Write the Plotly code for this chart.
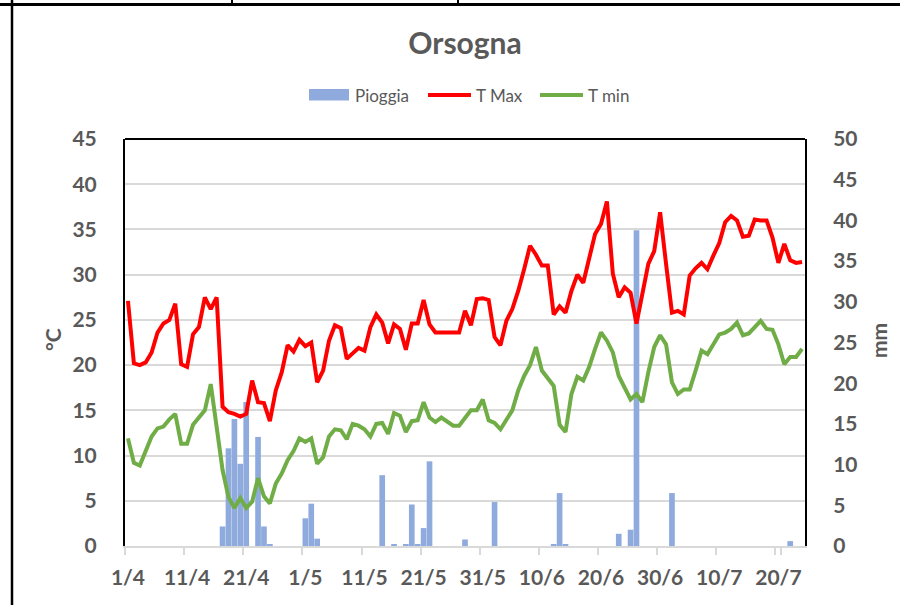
import pandas as pd
import plotly.graph_objects as go

# ---- data ----
dates = pd.date_range("2021-04-01", "2021-07-24", freq="D")
day_labels = [f"{d.day}/{d.month}" for d in dates]
tick_labels = ["1/4", "11/4", "21/4", "1/5", "11/5", "21/5", "31/5",
               "10/6", "20/6", "30/6", "10/7", "20/7"]

t_max = [27.1, 20.2, 20.0, 20.3, 21.4, 23.6, 24.6, 25.0, 26.8, 20.1,
         19.8, 23.4, 24.2, 27.5, 26.2, 27.5, 15.4, 14.8, 14.6, 14.3,
         14.6, 18.3, 15.9, 15.8, 13.8, 17.2, 19.2, 22.2, 21.5, 22.8,
         22.1, 22.5, 18.1, 19.4, 22.7, 24.4, 24.1, 20.7, 21.3, 21.9,
         21.6, 24.2, 25.6, 24.7, 22.4, 24.5, 24.0, 21.7, 24.6, 24.6,
         27.2, 24.5, 23.6, 23.6, 23.6, 23.6, 23.6, 26.0, 24.4, 27.3,
         27.4, 27.2, 23.1, 22.2, 24.9, 26.2, 28.2, 30.6, 33.2, 32.2,
         31.0, 31.0, 25.6, 26.5, 25.8, 28.2, 30.0, 29.1, 31.9, 34.5,
         35.6, 38.1, 30.1, 27.5, 28.6, 28.0, 24.6, 27.9, 31.2, 32.6,
         36.9, 31.2, 25.8, 26.0, 25.6, 29.9, 30.7, 31.3, 30.6, 32.1,
         33.5, 35.8, 36.5, 36.0, 34.2, 34.3, 36.1, 36.0, 36.0, 34.1,
         31.3, 33.4, 31.6, 31.3, 31.4]

t_min = [11.9, 9.2, 8.9, 10.4, 12.1, 13.0, 13.2, 14.0, 14.6, 11.3,
         11.3, 13.4, 14.2, 15.0, 17.9, 13.2, 8.4, 5.4, 4.2, 5.3,
         4.2, 4.9, 7.5, 5.5, 4.7, 6.9, 8.0, 9.5, 10.5, 11.9,
         11.5, 11.9, 9.1, 9.8, 12.1, 12.9, 12.8, 11.8, 13.5, 13.3,
         12.9, 12.1, 13.5, 13.6, 12.4, 14.7, 14.4, 12.6, 13.8, 13.9,
         15.9, 14.2, 13.7, 14.2, 13.8, 13.3, 13.3, 14.2, 15.0, 15.0,
         16.2, 13.9, 13.6, 12.9, 14.0, 15.0, 17.2, 18.8, 20.0, 22.0,
         19.4, 18.6, 17.7, 13.4, 12.6, 16.8, 18.7, 18.3, 19.8, 21.8,
         23.6, 22.7, 21.4, 18.8, 17.6, 16.2, 16.8, 15.9, 19.2, 22.0,
         23.3, 22.3, 18.1, 16.8, 17.3, 17.3, 19.4, 21.6, 21.2, 22.3,
         23.4, 23.6, 24.0, 24.7, 23.3, 23.5, 24.2, 24.9, 24.0, 23.9,
         22.3, 20.1, 20.9, 20.9, 21.8]

pioggia = [0, 0, 0, 0, 0, 0, 0, 0, 0, 0,
           0, 0, 0, 0, 0, 0, 2.4, 12.0, 15.6, 10.1,
           17.7, 0, 13.4, 2.4, 0.2, 0, 0, 0, 0, 0,
           3.4, 5.2, 0.9, 0, 0, 0, 0, 0, 0, 0,
           0, 0, 0, 8.7, 0, 0.2, 0, 0.2, 5.1, 0.2,
           2.2, 10.4, 0, 0, 0, 0, 0, 0.8, 0, 0,
           0, 0, 5.4, 0, 0, 0, 0, 0, 0, 0,
           0, 0, 0.2, 6.5, 0.2, 0, 0, 0, 0, 0,
           0, 0, 0, 1.5, 0, 2.0, 38.8, 0, 0, 0,
           0, 0, 6.5, 0, 0, 0, 0, 0, 0, 0,
           0, 0, 0, 0, 0, 0, 0, 0, 0, 0,
           0, 0, 0.6, 0, 0]

# ---- styling ----
W, H = 900, 605
L, R, T, B = 125, 95, 139, 59
PW, PH = W - L - R, H - T - B
GRAY = "#595959"
FONT = "Lato"


def px(x):
    return (x - L) / PW


def py(y):
    return (H - B - y) / PH


fig = go.Figure()
fig.add_trace(go.Bar(x=day_labels, y=pioggia, name="Pioggia",
                     marker=dict(color="#8FAADC", line=dict(width=0)),
                     yaxis="y"))
fig.add_trace(go.Scatter(x=day_labels, y=t_max, name="T Max", mode="lines",
                         line=dict(color="#FF0000", width=4), yaxis="y2"))
fig.add_trace(go.Scatter(x=day_labels, y=t_min, name="T min", mode="lines",
                         line=dict(color="#70AD47", width=4), yaxis="y2"))

tick_font = dict(family=FONT, size=21, color=GRAY, weight="bold")

shapes = [
    # plot area top border
    dict(type="line", xref="paper", yref="paper", x0=0, x1=1, y0=1, y1=1,
         line=dict(color="black", width=2)),
    # page/table borders
    dict(type="line", xref="paper", yref="paper", x0=px(0), x1=px(900),
         y0=py(4.5), y1=py(4.5), line=dict(color="black", width=3)),
    dict(type="line", xref="paper", yref="paper", x0=px(12), x1=px(12),
         y0=py(0), y1=py(605), line=dict(color="black", width=2.5)),
    dict(type="line", xref="paper", yref="paper", x0=px(232), x1=px(232),
         y0=py(0), y1=py(4.5), line=dict(color="black", width=2)),
    dict(type="line", xref="paper", yref="paper", x0=px(458), x1=px(458),
         y0=py(0), y1=py(4.5), line=dict(color="black", width=2)),
    # legend symbols
    dict(type="rect", xref="paper", yref="paper", x0=px(309), x1=px(349),
         y0=py(100.5), y1=py(89), fillcolor="#8FAADC", line=dict(width=0)),
    dict(type="line", xref="paper", yref="paper", x0=px(428), x1=px(471),
         y0=py(95), y1=py(95), line=dict(color="#FF0000", width=4)),
    dict(type="line", xref="paper", yref="paper", x0=px(540), x1=px(583),
         y0=py(95), y1=py(95), line=dict(color="#70AD47", width=4)),
]

leg_font = dict(family=FONT, size=17, color=GRAY)
annotations = [
    dict(text="Pioggia", x=px(353), y=py(95), xref="paper", yref="paper",
         xanchor="left", yanchor="middle", showarrow=False, font=leg_font),
    dict(text="T Max", x=px(474), y=py(95), xref="paper", yref="paper",
         xanchor="left", yanchor="middle", showarrow=False, font=leg_font),
    dict(text="T min", x=px(586), y=py(95), xref="paper", yref="paper",
         xanchor="left", yanchor="middle", showarrow=False, font=leg_font),
    dict(text="°C", x=px(52), y=py(340), xref="paper", yref="paper",
         xanchor="center", yanchor="middle", showarrow=False, textangle=-90,
         font=dict(family=FONT, size=21, color=GRAY, weight="bold")),
    dict(text="mm", x=px(878), y=py(341), xref="paper", yref="paper",
         xanchor="center", yanchor="middle", showarrow=False, textangle=-90,
         font=dict(family=FONT, size=21, color=GRAY, weight="bold")),
]

fig.update_layout(
    width=W, height=H, autosize=False,
    margin=dict(l=L, r=R, t=T, b=B, autoexpand=False),
    paper_bgcolor="white", plot_bgcolor="white",
    showlegend=False, bargap=0.04,
    title=dict(text="<b>Orsogna</b>", x=px(465), xref="paper",
               y=1 - 43 / H, yref="container", xanchor="center",
               yanchor="middle",
               font=dict(family=FONT, size=30, color=GRAY)),
    xaxis=dict(type="category", tickmode="array", tickvals=tick_labels,
               ticktext=tick_labels, tickson="boundaries", tickangle=0,
               automargin=False,
               showgrid=False, showline=True, linecolor="#D9D9D9",
               linewidth=1.5, ticks="outside", ticklen=7,
               tickcolor="#D9D9D9", tickwidth=1.5,
               ticklabelstandoff=12, tickfont=tick_font,
               range=[-0.5, len(day_labels) - 0.5]),
    yaxis=dict(range=[0, 50], dtick=5, side="right", showgrid=False,
               automargin=False,
               zeroline=False, showline=True, linecolor="black",
               linewidth=2, ticks="", ticklabelstandoff=22,
               tickfont=tick_font),
    yaxis2=dict(range=[0, 45], dtick=5, side="left", overlaying="y",
                automargin=False,
                showgrid=True, gridcolor="#D9D9D9", gridwidth=1.5,
                zeroline=False, showline=True, linecolor="black",
                linewidth=2, ticks="", ticklabelstandoff=22,
                tickfont=tick_font),
    shapes=shapes,
    annotations=annotations,
)

fig.write_html(
    "out.html",
    config={"displayModeBar": False},
    post_script="document.body.style.margin='0px';"
                "document.body.style.overflow='hidden';",
)
